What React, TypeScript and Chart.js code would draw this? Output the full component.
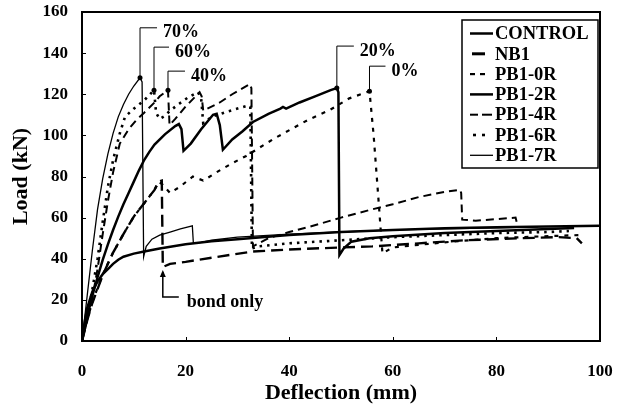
import React, { useEffect, useRef } from "react";
import { Chart, registerables } from "chart.js";

Chart.register(...registerables);

const FONT = "'Liberation Serif', 'Times New Roman', serif";

// axis ticks
const xTickValues = [0, 20, 40, 60, 80, 100];
const yTickValues = [0, 20, 40, 60, 80, 100, 120, 140, 160];

// series names
const seriesNames = ["CONTROL", "NB1", "PB1-0R", "PB1-2R", "PB1-4R", "PB1-6R", "PB1-7R"];

// CONTROL
const controlX = [0, 0.5, 1, 2, 3, 4, 5, 6, 7, 8, 10, 12, 15, 20, 25, 30, 40, 50, 60, 70, 80, 90, 100];
const controlY = [0, 9, 16, 24, 29, 32.5, 35, 37.5, 39.5, 41, 42.5, 43.5, 45, 47, 48.5, 49.5, 51.5, 53, 54, 54.8, 55.3, 55.7, 56];

// NB1 (bond only)
const nb1X = [0, 1, 2, 4, 6, 8, 10, 12, 14, 14.8, 15.4, 15.6, 17, 20, 25, 33, 40, 50, 56, 65, 74, 85, 92, 95.5, 96.5];
const nb1Y = [0, 10, 18.5, 32, 43, 52, 60.5, 67, 73.5, 77.5, 78, 36, 37.5, 38.5, 40.5, 43.5, 44.5, 45.5, 46, 47.5, 49, 50, 50.5, 50, 47.5];

// PB1-0R (0%)
const pb0X = [0, 1, 2, 4, 6, 8, 10, 12, 14, 14.8, 15.6, 17, 18.9, 21.4, 23.4, 26.6, 29.1, 31.7, 37.2, 43.6, 47.8, 51.6, 55.5, 56.3, 57.2, 58, 60, 70, 80, 90, 96];
const pb0Y = [0, 10.5, 19, 32.5, 43, 52, 60.5, 67, 73.5, 77.5, 76, 72, 75, 80, 78, 83, 86.6, 90, 98.6, 107.5, 112.3, 118, 121.5, 100, 70, 42.6, 45.5, 48, 50, 51, 51.5];

// PB1-2R (20%)
const pb2X = [0, 1, 2, 3, 4, 5, 6, 7, 8, 9, 10, 11, 12, 13, 14, 16, 18, 18.7, 19.2, 19.6, 21, 23, 25.3, 26, 26.6, 27.2, 29, 31, 33, 36, 38.3, 38.8, 39.4, 42, 45, 48, 49.2, 49.5, 49.7, 50.5, 52, 55.5, 60, 70, 80, 90, 95];
const pb2Y = [0, 12, 22, 31, 39.5, 47, 54, 60.5, 66.5, 72, 77.5, 83, 88, 92, 95.5, 100.5, 104.5, 105.5, 103, 92.5, 96, 103, 110, 110.5, 105, 93, 98, 102, 106.5, 110.5, 113, 113.8, 113, 116, 119, 122, 123, 121, 41.8, 45, 48.3, 50, 51, 52.5, 53.5, 54.5, 55];

// PB1-4R (40%)
const pb4X = [0, 1, 2, 3, 4, 5, 6, 7.3, 9, 10.5, 12, 14, 15, 16.6, 16.9, 18, 20, 22.7, 23.1, 23.4, 25, 26.6, 29, 32.4, 32.7, 33, 36, 40, 44, 50, 55.5, 60, 65, 70, 73, 73.2, 73.4, 76, 80, 83.7, 84];
const pb4Y = [0, 10, 21, 35, 52, 68, 82, 96, 103, 107.5, 111, 116, 119, 122, 105, 108, 114, 121, 119, 112, 114, 116, 120, 125, 123, 46, 50, 53, 55.6, 60, 63.7, 66.5, 70, 72.5, 73.5, 72, 59, 58.5, 59.3, 60, 57];

// PB1-6R (60%)
const pb6X = [0, 1, 2, 3, 4, 5, 6, 7.3, 8.3, 10, 12, 13.9, 14.3, 15, 16, 17, 18.9, 20.5, 22.4, 23, 23.4, 25, 28, 32, 32.5, 32.8, 34, 40, 50, 60, 70, 80, 90, 94];
const pb6Y = [0, 12, 25, 40, 58, 75, 88, 101, 109, 113, 117, 122, 111, 108, 109.5, 112, 115.6, 118.5, 121, 118, 106, 109, 111.5, 114.5, 114, 45, 46, 47.5, 49, 50.5, 51.5, 52.5, 53, 53.5];

// PB1-7R (70%)
const pb7X = [0, 1, 2, 3, 4, 5, 6, 7, 8, 9, 10, 11.2, 11.6, 11.9, 12.4, 13.5, 15, 17, 19, 21.3, 21.5, 23, 25, 30, 40, 50, 60, 70, 80, 88];
const pb7Y = [0, 22, 44, 64, 79, 91, 101, 109, 115, 120, 124, 128, 126, 41, 46, 49.5, 51.5, 53, 54.5, 56, 47.5, 48, 49, 50.5, 52, 53, 54, 54.5, 55, 55.5];

// annotations: label, data point it marks
const annoLabels = ["70%", "60%", "40%", "20%", "0%"];
const annoPoints = [[11.2, 128], [13.9, 122], [16.6, 122], [49.2, 123], [55.5, 121.5]];
const bondLabel = "bond only";
const bondPoint = [15.6, 36];

const toPts = (xs: number[], ys: number[]) => xs.map((x, i) => ({ x, y: ys[i] }));

type Style = { width: number; dash: number[]; sample: number[][] };
const styles: Style[] = [
  { width: 2.5, dash: [], sample: [[0, 23]] },
  { width: 2.4, dash: [12, 6], sample: [[2, 15]] },
  { width: 2.2, dash: [4, 6], sample: [[0, 5], [10, 15]] },
  { width: 2.5, dash: [], sample: [[0, 23]] },
  { width: 2, dash: [8, 5], sample: [[0, 8], [12, 22]] },
  { width: 2.6, dash: [2.5, 5], sample: [[3, 6], [12, 15]] },
  { width: 1.3, dash: [], sample: [[0, 23]] },
];

// [leader height up, horizontal length] in px for each annotation
const annoLeader = [[50, 17], [43, 15], [19, 17], [42, 17], [25, 16]];

const overlayPlugin = {
  id: "overlay",
  afterDatasetsDraw(chart: any) {
    const { ctx, chartArea, scales } = chart;
    const { left, right, top, bottom } = chartArea;
    const xs = scales.x;
    const ys = scales.y;
    ctx.save();
    // frame
    ctx.strokeStyle = "#000";
    ctx.setLineDash([]);
    ctx.lineWidth = 2;
    ctx.strokeRect(left, top, right - left, bottom - top);
    // inner ticks
    ctx.lineWidth = 1;
    ctx.beginPath();
    yTickValues.forEach((v) => {
      const py = Math.round(ys.getPixelForValue(v)) + 0.5;
      ctx.moveTo(left, py);
      ctx.lineTo(left + 4, py);
    });
    xTickValues.forEach((v) => {
      const px = Math.round(xs.getPixelForValue(v)) + 0.5;
      ctx.moveTo(px, bottom);
      ctx.lineTo(px, bottom - 4);
    });
    ctx.stroke();

    // annotations
    ctx.fillStyle = "#000";
    ctx.font = `bold 18px ${FONT}`;
    ctx.textBaseline = "middle";
    ctx.textAlign = "left";
    annoLabels.forEach((lab, i) => {
      const px = xs.getPixelForValue(annoPoints[i][0]);
      const py = ys.getPixelForValue(annoPoints[i][1]);
      const [h, w] = annoLeader[i];
      ctx.lineWidth = 1;
      ctx.beginPath();
      ctx.moveTo(px, py);
      ctx.lineTo(px, py - h);
      ctx.lineTo(px + w, py - h);
      ctx.stroke();
      ctx.beginPath();
      ctx.arc(px, py, 2.5, 0, Math.PI * 2);
      ctx.fill();
      ctx.fillText(lab, px + w + 6, py - h + 5);
    });
    // bond only
    {
      const px = xs.getPixelForValue(bondPoint[0]);
      const py = ys.getPixelForValue(bondPoint[1]) + 3;
      ctx.lineWidth = 1.5;
      ctx.beginPath();
      ctx.moveTo(px, py + 2);
      ctx.lineTo(px, py + 27);
      ctx.lineTo(px + 16, py + 27);
      ctx.stroke();
      ctx.beginPath();
      ctx.moveTo(px, py);
      ctx.lineTo(px - 3, py + 7);
      ctx.lineTo(px + 3, py + 7);
      ctx.closePath();
      ctx.fill();
      ctx.fillText(bondLabel, px + 24, py + 32);
    }

    // legend
    const lx = 462, ly = 20, lw = 136, lh = 148;
    ctx.fillStyle = "#fff";
    ctx.fillRect(lx, ly, lw, lh);
    ctx.strokeStyle = "#000";
    ctx.lineWidth = 1.5;
    ctx.setLineDash([]);
    ctx.strokeRect(lx, ly, lw, lh);
    ctx.fillStyle = "#000";
    ctx.font = `bold 18.5px ${FONT}`;
    seriesNames.forEach((name, i) => {
      const cy = 33.5 + i * 20.3;
      const st = styles[i];
      ctx.lineWidth = i === 1 ? 3 : st.width;
      ctx.lineCap = "butt";
      st.sample.forEach(([a, b]) => {
        ctx.beginPath();
        ctx.moveTo(lx + 8 + a, cy);
        ctx.lineTo(lx + 8 + b, cy);
        ctx.stroke();
      });
      ctx.fillText(name, lx + 33, cy + 1);
    });

    // axis titles
    ctx.font = `bold 22px ${FONT}`;
    ctx.textAlign = "center";
    ctx.fillText("Deflection (mm)", (left + right) / 2, 393);
    ctx.save();
    ctx.translate(21, (top + bottom) / 2);
    ctx.rotate(-Math.PI / 2);
    ctx.fillText("Load (kN)", 0, 0);
    ctx.restore();
    ctx.restore();
  },
};

export default function App() {
  const ref = useRef<HTMLCanvasElement | null>(null);
  useEffect(() => {
    if (!ref.current) return;
    const data = [
      toPts(controlX, controlY),
      toPts(nb1X, nb1Y),
      toPts(pb0X, pb0Y),
      toPts(pb2X, pb2Y),
      toPts(pb4X, pb4Y),
      toPts(pb6X, pb6Y),
      toPts(pb7X, pb7Y),
    ];
    const chart = new Chart(ref.current, {
      type: "scatter",
      data: {
        datasets: data.map((d, i) => ({
          label: seriesNames[i],
          data: d,
          showLine: true,
          borderColor: "#000",
          backgroundColor: "#000",
          borderWidth: styles[i].width,
          borderDash: styles[i].dash,
          pointRadius: 0,
          tension: 0,
        })),
      },
      options: {
        animation: false,
        responsive: false,
        layout: { padding: { top: 12, right: 24, left: 0, bottom: 0 } },
        plugins: { legend: { display: false }, tooltip: { enabled: false } },
        scales: {
          x: {
            type: "linear",
            min: 0,
            max: 100,
            afterFit: (s: any) => { s.height = 70; s.paddingLeft = 0; s.paddingRight = 0; },
            afterBuildTicks: (s: any) => { s.ticks = xTickValues.map((v) => ({ value: v })); },
            grid: { display: false, drawTicks: false },
            border: { display: false },
            ticks: { color: "#000", padding: 20, font: { family: FONT, size: 17, weight: "bold" } },
          },
          y: {
            type: "linear",
            min: 0,
            max: 160,
            afterFit: (s: any) => { s.width = 82; s.paddingTop = 0; s.paddingBottom = 0; },
            afterBuildTicks: (s: any) => { s.ticks = yTickValues.map((v) => ({ value: v })); },
            grid: { display: false, drawTicks: false },
            border: { display: false },
            ticks: { color: "#000", padding: 14, font: { family: FONT, size: 17, weight: "bold" } },
          },
        },
      },
      plugins: [overlayPlugin],
    });
    return () => chart.destroy();
  }, []);
  return (
    <div style={{ position: "fixed", left: 0, top: 0, width: 624, height: 411, background: "#fff" }}>
      <canvas ref={ref} width={624} height={411} style={{ width: 624, height: 411, display: "block" }} />
    </div>
  );
}
